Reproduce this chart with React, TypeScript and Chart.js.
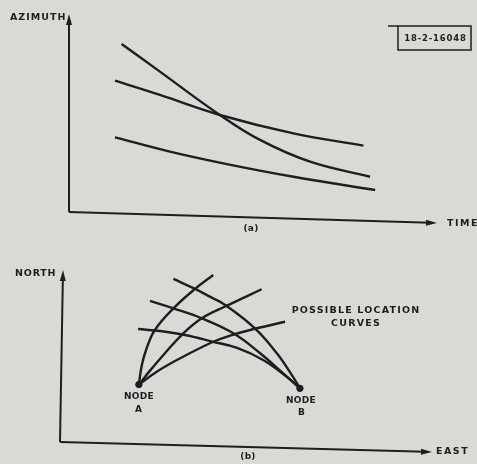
import { useEffect, useRef } from 'react';
import { Chart, registerables } from 'chart.js';

Chart.register(...registerables);

// ---------- Panel (a): azimuth vs time (arbitrary units 0-100) ----------
const timeCurve1X = [14.3, 24.7, 41.0, 51.9, 65.5, 81.8];
const azimuthCurve1 = [84.8, 70.9, 49.0, 36.4, 25.4, 17.8];
const timeCurve2X = [12.5, 24.7, 41.0, 61.0, 80.0];
const azimuthCurve2 = [66.3, 59.1, 49.0, 39.7, 33.5];
const timeCurve3X = [12.5, 27.4, 42.9, 61.0, 83.2];
const azimuthCurve3 = [37.7, 30.5, 24.2, 17.8, 11.1];

// ---------- Panel (b): north vs east (arbitrary units 0-100) ----------
const nodeNames = ['A', 'B'];
const nodeEast = [21.2, 64.5];
const nodeNorth = [33.4, 31.2];

const curveA1East = [21.2, 22.0, 23.3, 25.5, 30.5, 36.3, 41.2];
const curveA1North = [33.4, 44.8, 54.5, 65.1, 77.7, 89.0, 97.1];
const curveA2East = [21.2, 24.2, 27.8, 32.7, 38.1, 44.8, 54.2];
const curveA2North = [33.4, 41.5, 50.6, 62.2, 71.9, 79.2, 88.8];
const curveA3East = [21.2, 26.0, 32.3, 41.2, 45.7, 51.1, 60.5];
const curveA3North = [33.4, 40.9, 48.7, 58.3, 61.8, 65.1, 69.9];
const curveB1East = [30.5, 36.3, 40.3, 44.4, 52.4, 58.3, 62.3, 64.5];
const curveB1North = [94.8, 89.0, 84.5, 79.7, 66.1, 51.6, 39.0, 31.2];
const curveB2East = [24.2, 30.5, 38.1, 46.6, 53.8, 60.0, 64.5];
const curveB2North = [82.0, 77.7, 71.9, 63.2, 51.6, 39.9, 31.2];
const curveB3East = [21.0, 26.9, 33.6, 40.9, 47.6, 54.6, 60.9, 64.5];
const curveB3North = [65.7, 64.5, 62.2, 58.4, 54.7, 47.7, 38.0, 31.2];

const BG = '#d9d9d5';
const INK = '#1e1e1e';
const FONT = '"DejaVu Sans", sans-serif';

const pts = (xs: number[], ys: number[]) => xs.map((x, i) => ({ x, y: ys[i] }));

const curve = (xs: number[], ys: number[]) => ({
  data: pts(xs, ys),
  showLine: true,
  borderColor: INK,
  borderWidth: 2.4,
  pointRadius: 0,
  tension: 0.4,
  fill: false,
});

type Label = { text: string; x: number; y: number; size?: number; bold?: boolean; spacing?: number; align?: CanvasTextAlign };
type Deco = {
  xAxisDrop: number; // scan skew of the horizontal axis at its right end
  yAxisLean: number;
  labels: Label[];
  box?: { x: number; y: number; w: number; h: number; text: string };
};

function arrow(ctx: CanvasRenderingContext2D, x1: number, y1: number, x2: number, y2: number) {
  const ang = Math.atan2(y2 - y1, x2 - x1);
  const L = 11, Wd = 3;
  ctx.beginPath();
  ctx.moveTo(x1, y1);
  ctx.lineTo(x2 - L * 0.6 * Math.cos(ang), y2 - L * 0.6 * Math.sin(ang));
  ctx.stroke();
  ctx.beginPath();
  ctx.moveTo(x2, y2);
  ctx.lineTo(x2 - L * Math.cos(ang) + Wd * Math.sin(ang), y2 - L * Math.sin(ang) - Wd * Math.cos(ang));
  ctx.lineTo(x2 - L * Math.cos(ang) - Wd * Math.sin(ang), y2 - L * Math.sin(ang) + Wd * Math.cos(ang));
  ctx.closePath();
  ctx.fill();
}

const decoPlugin = {
  id: 'deco',
  beforeDraw(chart: any) {
    const ctx = chart.ctx as CanvasRenderingContext2D;
    ctx.save();
    ctx.fillStyle = BG;
    ctx.fillRect(0, 0, chart.width, chart.height);
    ctx.restore();
  },
  afterDraw(chart: any, _args: any, opts: Deco) {
    const ctx = chart.ctx as CanvasRenderingContext2D;
    const a = chart.chartArea;
    ctx.save();
    ctx.strokeStyle = INK;
    ctx.fillStyle = INK;
    ctx.lineWidth = 2;
    arrow(ctx, a.left, a.bottom, a.left + opts.yAxisLean, a.top);
    arrow(ctx, a.left, a.bottom, a.right, a.bottom + opts.xAxisDrop);
    ctx.textBaseline = 'middle';
    for (const l of opts.labels) {
      ctx.font = `${l.bold === false ? 'normal' : 'bold'} ${l.size ?? 9}px ${FONT}`;
      (ctx as any).letterSpacing = `${l.spacing ?? 1}px`;
      ctx.textAlign = l.align ?? 'left';
      ctx.fillText(l.text, l.x, l.y);
    }
    if (opts.box) {
      const b = opts.box;
      ctx.lineWidth = 1.5;
      ctx.strokeRect(b.x, b.y, b.w, b.h);
      ctx.beginPath();
      ctx.moveTo(b.x - 10, b.y);
      ctx.lineTo(b.x, b.y);
      ctx.stroke();
      ctx.font = `bold 8.5px ${FONT}`;
      (ctx as any).letterSpacing = '0.8px';
      ctx.textAlign = 'center';
      ctx.fillText(b.text, b.x + b.w / 2 + 1, b.y + b.h / 2 + 0.5);
    }
    ctx.restore();
  },
};

function build(canvas: HTMLCanvasElement, datasets: any[], padding: any, deco: Deco) {
  return new Chart(canvas, {
    type: 'scatter',
    data: { datasets },
    options: {
      animation: false,
      responsive: false,
      events: [],
      layout: { padding },
      scales: {
        x: { type: 'linear', min: 0, max: 100, display: false },
        y: { type: 'linear', min: 0, max: 100, display: false },
      },
      plugins: { legend: { display: false }, tooltip: { enabled: false }, deco } as any,
    },
    plugins: [decoPlugin],
  });
}

export default function App() {
  const topRef = useRef<HTMLCanvasElement>(null);
  const botRef = useRef<HTMLCanvasElement>(null);

  useEffect(() => {
    document.body.style.margin = '0';
    document.body.style.background = BG;
    const top = build(
      topRef.current!,
      [
        curve(timeCurve1X, azimuthCurve1),
        curve(timeCurve2X, azimuthCurve2),
        curve(timeCurve3X, azimuthCurve3),
      ],
      { left: 69, top: 14, right: 40, bottom: 32 },
      {
        xAxisDrop: 11,
        yAxisLean: 0,
        labels: [
          { text: 'AZIMUTH', x: 10, y: 18, size: 9.5, spacing: 1 },
          { text: 'TIME', x: 447, y: 224, size: 9.5, spacing: 1.5 },
          { text: '(a)', x: 251, y: 229, size: 9, spacing: 0.3, align: 'center' },
        ],
        box: { x: 398, y: 26, w: 73, h: 24, text: '18-2-16048' },
      }
    );
    const bot = build(
      botRef.current!,
      [
        curve(curveA1East, curveA1North),
        curve(curveA2East, curveA2North),
        curve(curveA3East, curveA3North),
        curve(curveB1East, curveB1North),
        curve(curveB2East, curveB2North),
        curve(curveB3East, curveB3North),
        {
          data: pts(nodeEast, nodeNorth),
          showLine: false,
          pointRadius: 3.2,
          pointBackgroundColor: INK,
          pointBorderColor: INK,
        },
      ],
      { left: 60, top: 26, right: 45, bottom: 22 },
      {
        xAxisDrop: 10,
        yAxisLean: 3,
        labels: [
          { text: 'NORTH', x: 15, y: 274, size: 9.5, spacing: 0.8 },
          { text: 'EAST', x: 436, y: 452, size: 9.5, spacing: 1.5 },
          { text: '(b)', x: 248, y: 457, size: 9, spacing: 0.3, align: 'center' },
          { text: 'POSSIBLE LOCATION', x: 356, y: 311, size: 9.5, spacing: 1.2, align: 'center' },
          { text: 'CURVES', x: 356, y: 324, size: 9.5, spacing: 1.2, align: 'center' },
          { text: 'NODE', x: 139, y: 397, size: 9, spacing: 0.3, align: 'center' },
          { text: nodeNames[0], x: 139, y: 410, size: 9, align: 'center' },
          { text: 'NODE', x: 301, y: 401, size: 9, spacing: 0.3, align: 'center' },
          { text: nodeNames[1], x: 302, y: 413, size: 9, align: 'center' },
        ].map((l) => ({ ...l, y: l.y - 244 })),
      }
    );
    return () => {
      top.destroy();
      bot.destroy();
    };
  }, []);

  return (
    <div style={{ position: 'relative', width: 477, height: 464, background: BG, overflow: 'hidden' }}>
      <canvas ref={topRef} width={477} height={244} style={{ position: 'absolute', left: 0, top: 0, display: 'block' }} />
      <canvas ref={botRef} width={477} height={220} style={{ position: 'absolute', left: 0, top: 244, display: 'block' }} />
    </div>
  );
}
